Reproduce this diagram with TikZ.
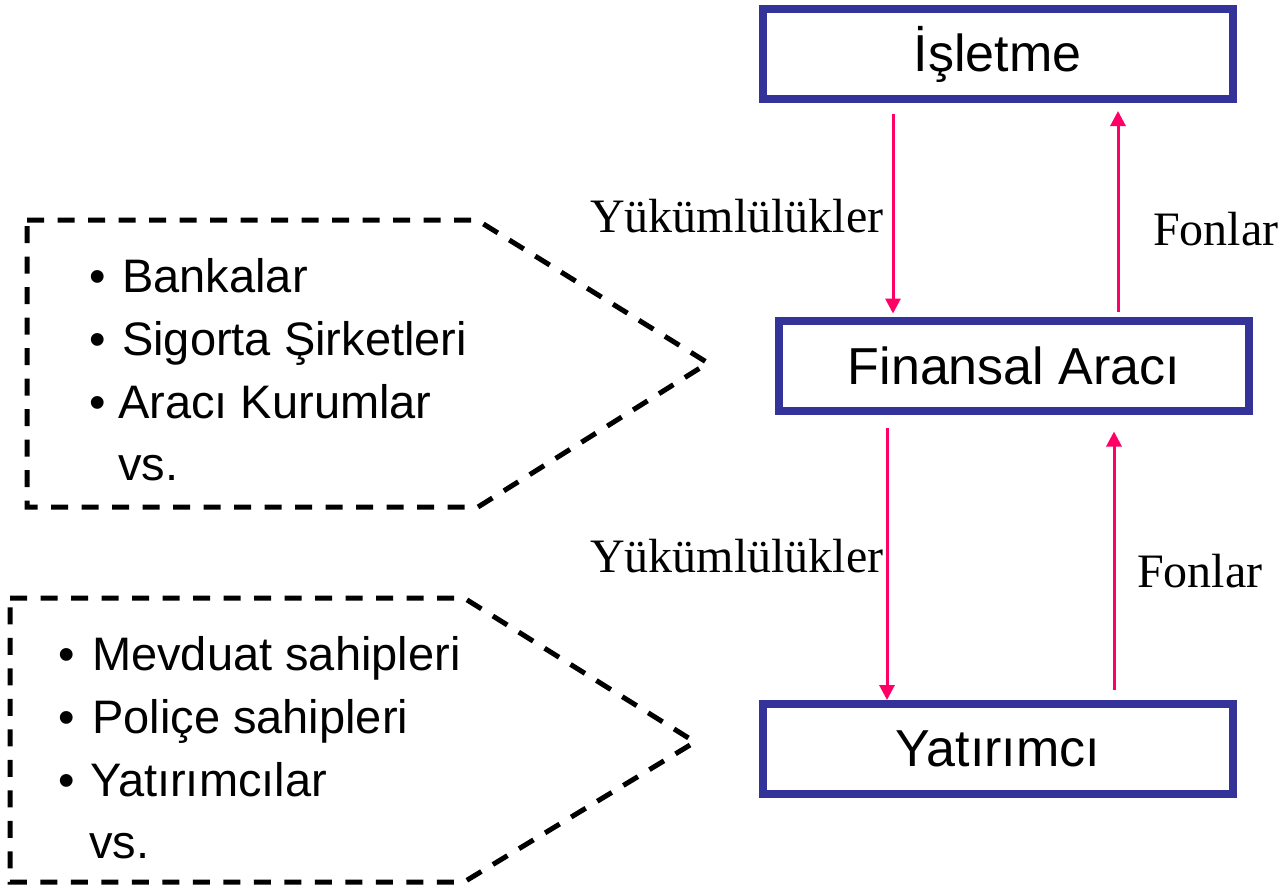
\documentclass[tikz,border=0pt]{standalone}
\usepackage{fontspec}
\setmainfont{Liberation Serif}
\setsansfont{Liberation Sans}
\usetikzlibrary{arrows.meta}
\definecolor{boxblue}{RGB}{51,51,153}
\definecolor{arrpink}{RGB}{255,0,102}
\begin{document}
\begin{tikzpicture}[x=1pt,y=-1pt,
  mainbox/.style={draw=boxblue,line width=8pt,minimum width=470pt,minimum height=90pt,inner sep=0pt,font=\sffamily\fontsize{52}{60}\selectfont},
  flow/.style={draw=arrpink,line width=3pt,-{Triangle[width=15pt,length=15pt]}},
  lbl/.style={font=\rmfamily\fontsize{48}{54}\selectfont,anchor=base west,inner sep=0pt},
  item/.style={font=\sffamily\fontsize{47}{54}\selectfont,anchor=base west,inner sep=0pt},
  bul/.style={font=\sffamily\fontsize{47}{54}\selectfont,anchor=base,inner sep=0pt},
  pent/.style={draw=black,line width=5pt,dash pattern=on 17pt off 13.5pt}]
\useasboundingbox (0,0) rectangle (1286,887);
% boxes
\node[mainbox] (isl) at (997.5,54) {İşletme};
\node[mainbox] (fin) at (1014,365.5) {Finansal Aracı};
\node[mainbox] (yat) at (998,749) {Yatırımcı};
% arrows
\draw[flow,shorten <=11pt,shorten >=3pt] (isl.south -| 893,0) -- (fin.north -| 893,0);
\draw[flow,shorten <=5pt,shorten >=8pt] (fin.north -| 1118,0) -- (isl.south -| 1118,0);
\draw[flow,shorten <=13pt] (fin.south -| 887,0) -- (yat.north -| 887,0);
\draw[flow,shorten <=10pt,shorten >=17pt] (yat.north -| 1114,0) -- (fin.south -| 1114,0);
% labels
\node[lbl] (y1) at (590,232) {Yükümlülükler};
\node[lbl] (f1) at (1153,245) {Fonlar};
\node[lbl] (y2) at (590,572) {Yükümlülükler};
\node[lbl] (f2) at (1137,587) {Fonlar};
% pentagons
\draw[pent] (27,220) -- (477,220) -- (708,363) -- (478,507) -- (27,507) -- cycle;
\draw[pent] (10,598) -- (464,598) -- (695,742) -- (464,882) -- (10,882) -- cycle;
% top list
\node[bul] (b1) at (98,292) {•};
\node[item] (t1) at (122,292) {Bankalar};
\node[bul] (b2) at (98,355) {•};
\node[item] (t2) at (122,355) {Sigorta Şirketleri};
\node[bul] (b3) at (98,418) {•};
\node[item] (t3) at (118,418) {Aracı Kurumlar};
\node[item] (t4) at (118,480) {vs.};
% bottom list
\node[bul] (c1) at (67,670) {•};
\node[item] (s1) at (92,670) {Mevduat sahipleri};
\node[bul] (c2) at (67,733) {•};
\node[item] (s2) at (92,733) {Poliçe sahipleri};
\node[bul] (c3) at (67,796) {•};
\node[item] (s3) at (90,796) {Yatırımcılar};
\node[item] (s4) at (89,858) {vs.};
\end{tikzpicture}
\end{document}
